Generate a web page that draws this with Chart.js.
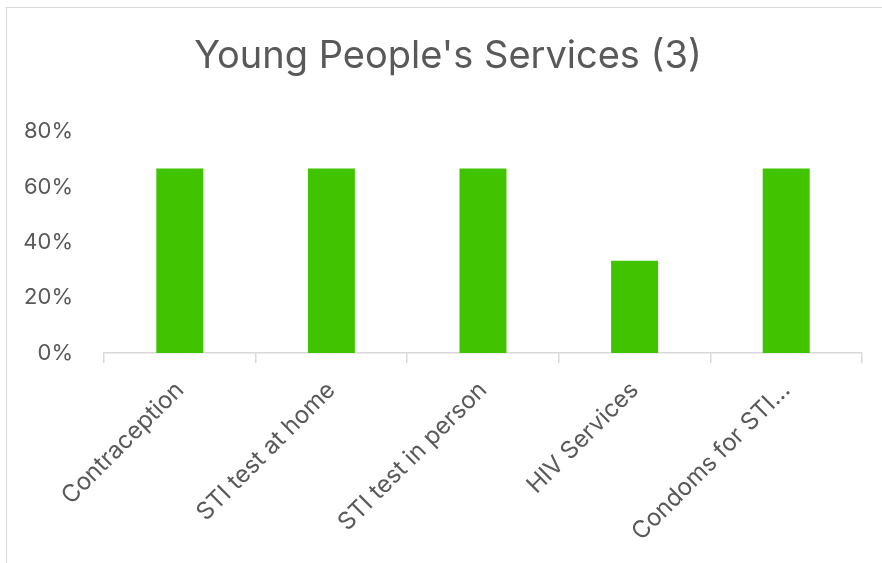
<!DOCTYPE html>
<html>
<head>
<meta charset="utf-8">
<script src="https://cdn.jsdelivr.net/npm/chart.js@4.4.1/dist/chart.umd.min.js"></script>
<style>
    html, body { margin: 0; padding: 0; background: #fff; }
    #wrap { position: relative; width: 882px; height: 563px; overflow: hidden; }
    #frame {
        position: absolute; left: 6px; top: 7px; width: 900px; height: 600px;
        border: 1.5px solid #d9d9d9; box-sizing: border-box;
    }
    canvas { position: absolute; left: 0; top: 0; }
</style>
</head>
<body>
<div id="wrap">
    <div id="frame"></div>
    <canvas id="chart" width="882" height="563"></canvas>
</div>
<script>
// 数据
const categories = ['Contraception', 'STI test at home', 'STI test in person', 'HIV Services', 'Condoms for STI...'];
const values = [66.67, 66.67, 66.67, 33.33, 66.67];
const yTicks = [0, 20, 40, 60, 80];

const FONT = 'Inter, "Open Sans", sans-serif';
const TEXT = '#595959';
const LINE = '#d9d9d9';

Chart.defaults.font.family = FONT;
Chart.defaults.color = TEXT;

// 标题水平位置微调
const titleShift = {
    id: 'titleShift',
    afterLayout(chart) {
        if (chart.titleBlock) {
            chart.titleBlock.left = 34;
        }
    }
};

new Chart(document.getElementById('chart').getContext('2d'), {
    type: 'bar',
    data: {
        labels: categories,
        datasets: [{
            data: values,
            backgroundColor: '#40C400',
            borderWidth: 0,
            barPercentage: 0.31,
            categoryPercentage: 1
        }]
    },
    plugins: [titleShift],
    options: {
        responsive: false,
        animation: false,
        layout: { padding: { left: 0, right: 20, top: 0, bottom: 0 } },
        plugins: {
            legend: { display: false },
            tooltip: { enabled: false },
            title: {
                display: true,
                text: "Young People's Services (3)",
                color: TEXT,
                font: { size: 38, weight: 'normal' },
                padding: { top: 34, bottom: 52 }
            }
        },
        scales: {
            y: {
                min: 0,
                max: 80,
                afterBuildTicks: (scale) => {
                    scale.ticks = yTicks.map(v => ({ value: v }));
                },
                afterFit: (scale) => { scale.width = 104; },
                grid: { display: false, drawTicks: false },
                border: { display: false },
                ticks: {
                    padding: 31,
                    color: TEXT,
                    font: { size: 22 },
                    callback: (v) => v + '%'
                }
            },
            x: {
                afterFit: (scale) => { scale.height = 210; },
                grid: {
                    offset: true,
                    drawOnChartArea: false,
                    drawTicks: true,
                    tickLength: 10,
                    color: LINE,
                    lineWidth: 1.5
                },
                border: { display: true, color: LINE, width: 1.5 },
                ticks: {
                    minRotation: 45,
                    maxRotation: 45,
                    padding: 13,
                    color: TEXT,
                    font: { size: 24 }
                }
            }
        }
    }
});
</script>
</body>
</html>
